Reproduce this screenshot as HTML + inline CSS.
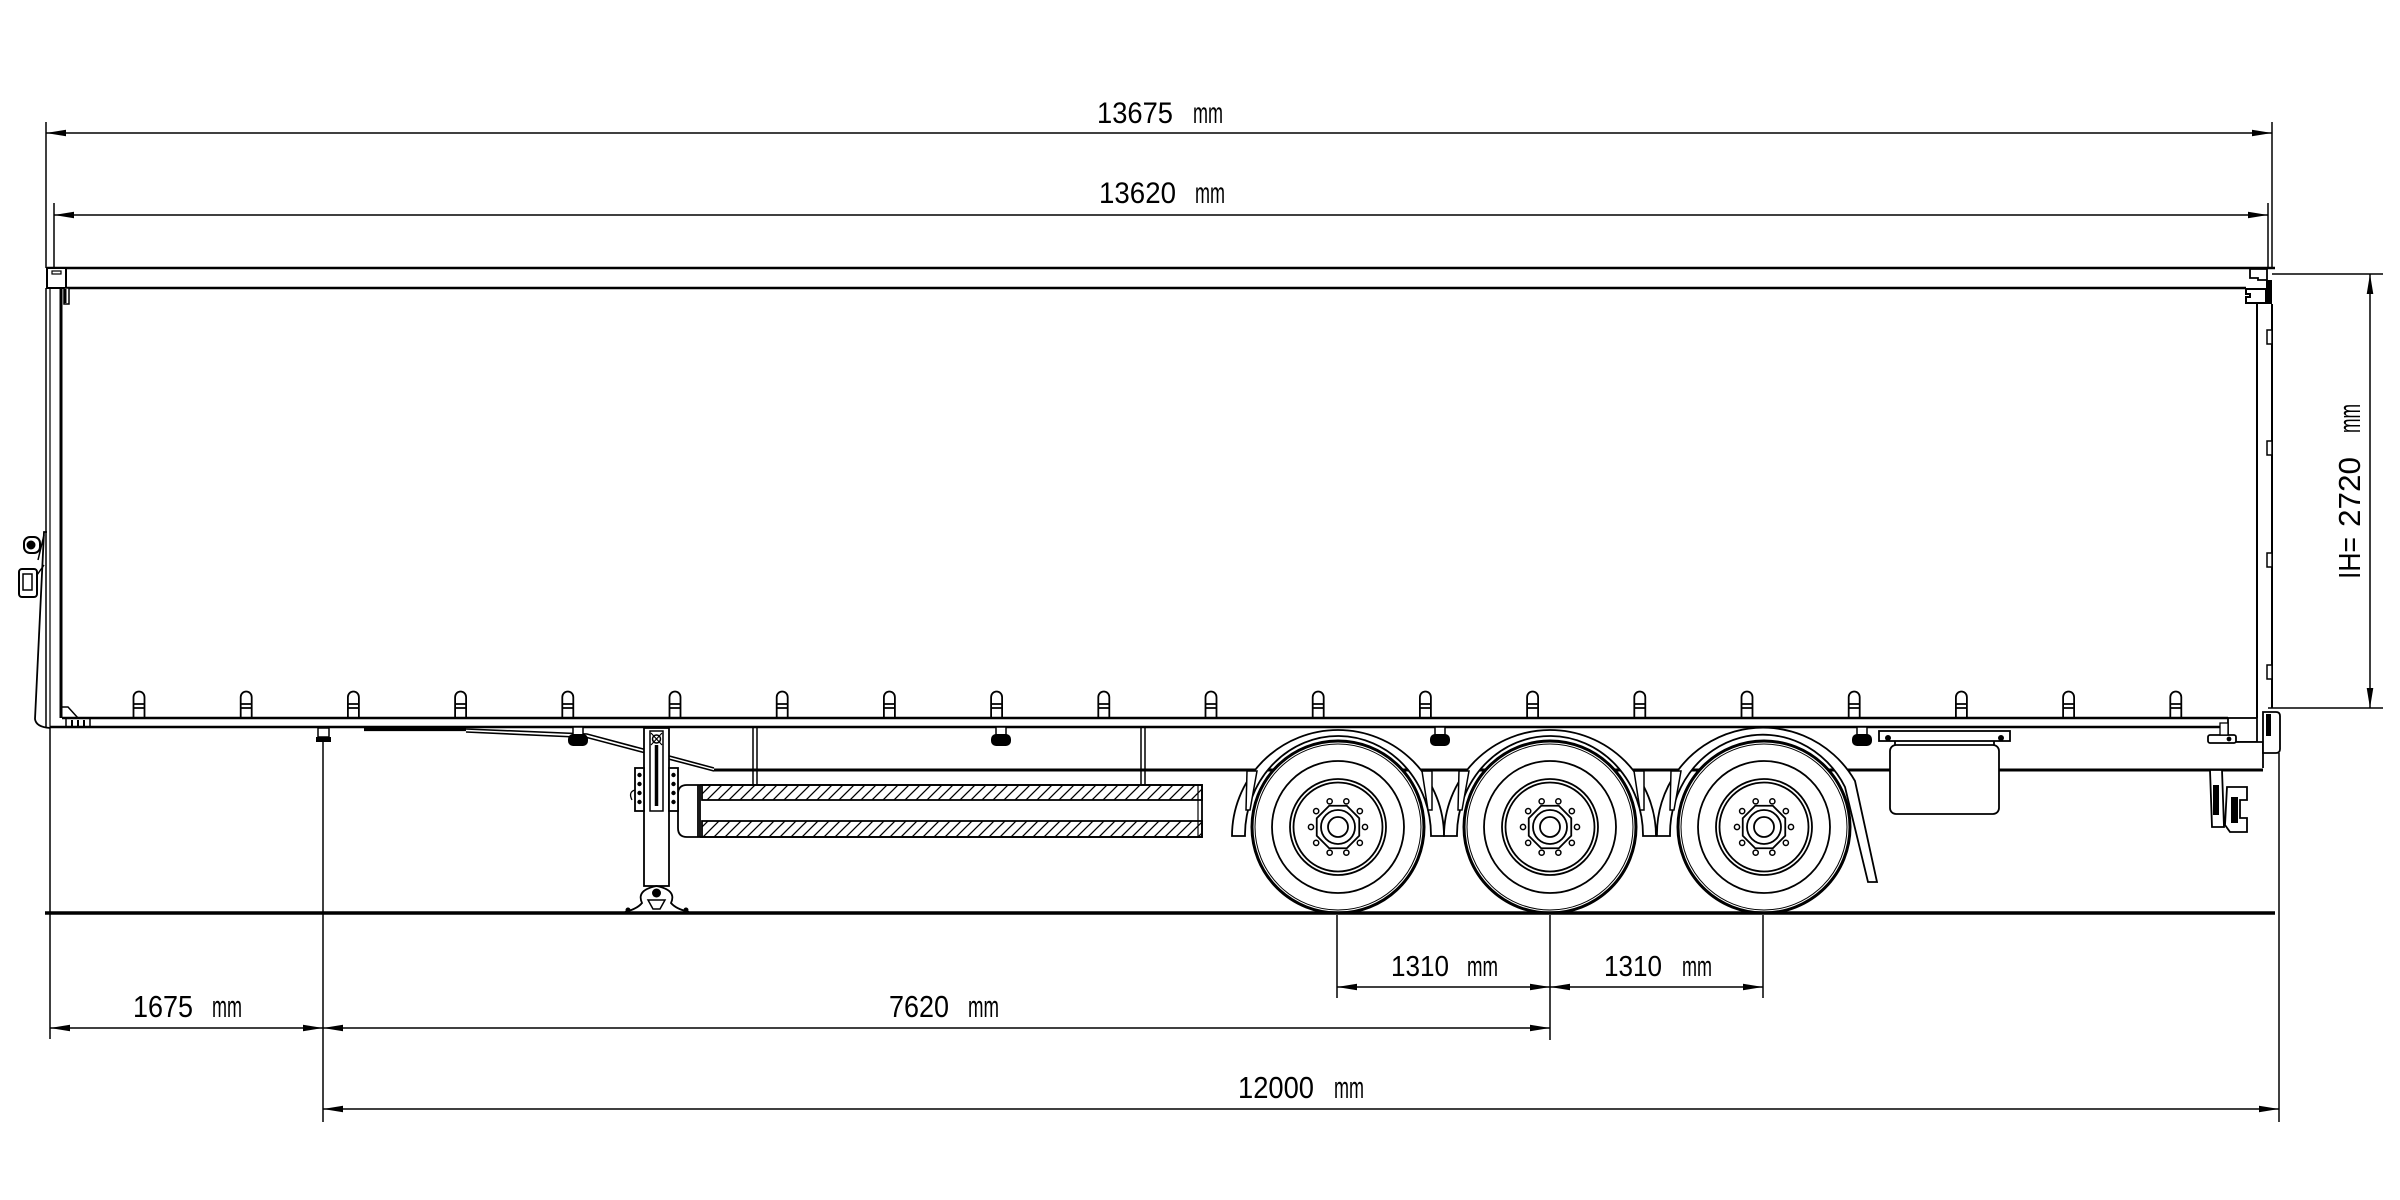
<!DOCTYPE html>
<html>
<head>
<meta charset="utf-8">
<style>
  html, body { margin: 0; padding: 0; background: #fff; }
  svg { display: block; }
  text { font-family: "Liberation Sans", "DejaVu Sans", sans-serif; fill: #000; }
</style>
</head>
<body>
<svg width="2400" height="1200" viewBox="0 0 2400 1200" xmlns="http://www.w3.org/2000/svg" xmlns:xlink="http://www.w3.org/1999/xlink">
  <rect x="0" y="0" width="2400" height="1200" fill="#fff"/>
  <defs>
    <pattern id="h" patternUnits="userSpaceOnUse" width="11" height="11">
      <path d="M-1,12 L12,-1 M-1,1 L1,-1 M10,12 L12,10" stroke="#000" stroke-width="1.3"/>
    </pattern>
    <path id="ar" d="M0,0 L-20,-3.3 L-20,3.3 Z" fill="#000"/>
    <g id="hook" fill="#fff" stroke="#000" stroke-width="1.8">
      <path d="M-5.5,718 V697 A5.5,5.5 0 0 1 5.5,697 V718"/>
      <path d="M-5.5,704 H5.5 M-5.5,708 H5.5" fill="none"/>
    </g>
    <g id="wheel" stroke="#000" fill="none">
      <circle r="86" stroke-width="3" fill="#fff"/>
      <circle r="83" stroke-width="1"/>
      <circle r="66" stroke-width="1.8"/>
      <circle r="48" stroke-width="1.8"/>
      <circle r="44.5" stroke-width="1.8"/>
      <polygon points="21.25,8.8 8.8,21.25 -8.8,21.25 -21.25,8.8 -21.25,-8.8 -8.8,-21.25 8.8,-21.25 21.25,-8.8" stroke-width="1.8"/>
      <circle r="17" stroke-width="1.8"/>
      <circle r="10" stroke-width="1.8"/>
      <g stroke-width="1.5">
        <circle cx="27" cy="0" r="2.6"/>
        <circle cx="21.84" cy="15.87" r="2.6"/>
        <circle cx="8.34" cy="25.68" r="2.6"/>
        <circle cx="-8.34" cy="25.68" r="2.6"/>
        <circle cx="-21.84" cy="15.87" r="2.6"/>
        <circle cx="-27" cy="0" r="2.6"/>
        <circle cx="-21.84" cy="-15.87" r="2.6"/>
        <circle cx="-8.34" cy="-25.68" r="2.6"/>
        <circle cx="8.34" cy="-25.68" r="2.6"/>
        <circle cx="21.84" cy="-15.87" r="2.6"/>
      </g>
    </g>
    <g id="lamp">
      <rect x="-5" y="727" width="10" height="8" fill="#fff" stroke="#000" stroke-width="1.5"/>
      <rect x="-10" y="734" width="20" height="12" rx="5" fill="#000"/>
    </g>
  </defs>

  <!-- ============ TOP DIMENSIONS ============ -->
  <g stroke="#000" stroke-width="1.5" fill="none">
    <path d="M46,133 H2272"/>
    <path d="M46,122 V268"/>
    <path d="M2272,122 V268"/>
    <path d="M54,215 H2268"/>
    <path d="M54,203 V268"/>
    <path d="M2268,203 V268"/>
  </g>
  <use xlink:href="#ar" href="#ar" transform="translate(46,133) rotate(180)"/>
  <use xlink:href="#ar" href="#ar" transform="translate(2272,133)"/>
  <use xlink:href="#ar" href="#ar" transform="translate(54,215) rotate(180)"/>
  <use xlink:href="#ar" href="#ar" transform="translate(2268,215)"/>
  <text x="1097" y="123" font-size="30" textLength="76" lengthAdjust="spacingAndGlyphs">13675</text>
  <text x="1193" y="123" font-size="30" textLength="30" lengthAdjust="spacingAndGlyphs">mm</text>
  <text x="1099" y="203" font-size="30" textLength="77" lengthAdjust="spacingAndGlyphs">13620</text>
  <text x="1195" y="203" font-size="30" textLength="30" lengthAdjust="spacingAndGlyphs">mm</text>

  <!-- ============ IH DIMENSION ============ -->
  <g stroke="#000" stroke-width="1.5" fill="none">
    <path d="M2272,274 H2383"/>
    <path d="M2268,708 H2383"/>
    <path d="M2370,274 V708"/>
  </g>
  <use xlink:href="#ar" href="#ar" transform="translate(2370,274) rotate(-90)"/>
  <use xlink:href="#ar" href="#ar" transform="translate(2370,708) rotate(90)"/>
  <g transform="translate(2360,0) rotate(-90)">
    <text x="-579" y="0" font-size="31" textLength="42" lengthAdjust="spacingAndGlyphs">IH=</text>
    <text x="-527" y="0" font-size="31" textLength="70" lengthAdjust="spacingAndGlyphs">2720</text>
    <text x="-433" y="0" font-size="31" textLength="29" lengthAdjust="spacingAndGlyphs">mm</text>
  </g>

  <!-- ============ TRAILER BODY ============ -->
  <g stroke="#000" fill="none">
    <path d="M47,268 H2275" stroke-width="2.6"/>
    <path d="M66,288 H2246" stroke-width="2.6"/>
    <rect x="47" y="268" width="19" height="20" stroke-width="2" fill="#fff"/>
    <rect x="52" y="271" width="9" height="3" stroke-width="1.2"/>
    <rect x="64" y="288" width="5" height="16" stroke-width="1.5" fill="#fff"/>
    <path d="M65.5,289 V303" stroke-width="2"/>
    <!-- rear top blocks -->
    <path d="M2250,269 H2267 V280 H2258 V278 H2250 Z" stroke-width="1.8" fill="#fff"/>
    <path d="M2246,289 H2266 V303 H2246 V297 H2250 V294 H2246 Z" stroke-width="2" fill="#fff"/>
    <rect x="2266" y="280" width="6" height="24" fill="#000" stroke="none"/>
  </g>

  <!-- front wall -->
  <g stroke="#000" fill="none">
    <path d="M46,288 V727" stroke-width="1.5"/>
    <path d="M50,288 V727" stroke-width="1.2"/>
    <path d="M61,288 V718" stroke-width="3"/>
    <path d="M47,532 L44,532 L35,719 Q36,727 50,728" stroke-width="1.8"/>
    <path d="M44,535 L38,560" stroke-width="1.5"/>
    <rect x="24" y="537" width="16" height="16" rx="6" stroke-width="2"/>
    <circle cx="31" cy="545" r="4" fill="#000"/>
    <rect x="19" y="569" width="18" height="28" rx="3" stroke-width="2"/>
    <rect x="23" y="574" width="9" height="16" stroke-width="1.5"/>
    <path d="M37,575 L44,565" stroke-width="1.5"/>
    <path d="M62,707 L68,707 L78,718" stroke-width="1.5"/>
    <rect x="66" y="718" width="24" height="9" stroke-width="1.5" fill="#fff"/>
    <path d="M72,720 V726 M78,720 V726 M84,720 V726" stroke-width="2"/>
  </g>

  <!-- rear wall -->
  <g stroke="#000" fill="none">
    <path d="M2257,303 V718" stroke-width="2"/>
    <path d="M2272,304 V708" stroke-width="2"/>
    <rect x="2267" y="330" width="5" height="14" stroke-width="1.5" fill="#fff"/>
    <rect x="2267" y="441" width="5" height="14" stroke-width="1.5" fill="#fff"/>
    <rect x="2267" y="553" width="5" height="14" stroke-width="1.5" fill="#fff"/>
    <rect x="2267" y="665" width="5" height="14" stroke-width="1.5" fill="#fff"/>
  </g>

  <!-- tie-down hooks -->
  <use xlink:href="#hook" href="#hook" x="139"/>
  <use xlink:href="#hook" href="#hook" x="246.2"/>
  <use xlink:href="#hook" href="#hook" x="353.4"/>
  <use xlink:href="#hook" href="#hook" x="460.6"/>
  <use xlink:href="#hook" href="#hook" x="567.8"/>
  <use xlink:href="#hook" href="#hook" x="675"/>
  <use xlink:href="#hook" href="#hook" x="782.2"/>
  <use xlink:href="#hook" href="#hook" x="889.4"/>
  <use xlink:href="#hook" href="#hook" x="996.6"/>
  <use xlink:href="#hook" href="#hook" x="1103.8"/>
  <use xlink:href="#hook" href="#hook" x="1211"/>
  <use xlink:href="#hook" href="#hook" x="1318.2"/>
  <use xlink:href="#hook" href="#hook" x="1425.4"/>
  <use xlink:href="#hook" href="#hook" x="1532.6"/>
  <use xlink:href="#hook" href="#hook" x="1639.8"/>
  <use xlink:href="#hook" href="#hook" x="1747"/>
  <use xlink:href="#hook" href="#hook" x="1854.2"/>
  <use xlink:href="#hook" href="#hook" x="1961.4"/>
  <use xlink:href="#hook" href="#hook" x="2068.6"/>
  <use xlink:href="#hook" href="#hook" x="2175.8"/>

  <!-- bottom rail -->
  <g stroke="#000" fill="none">
    <path d="M62,718 H2228" stroke-width="2.4"/>
    <path d="M50,727 H2228" stroke-width="2.4"/>
  </g>

  <!-- ============ CHASSIS ============ -->
  <g stroke="#000" fill="none">
    <path d="M364,729.5 H466" stroke-width="3.2"/>
    <path d="M466,729 L587,734 L714,768" stroke-width="1.6"/>
    <path d="M466,732 L587,737.5 L714,771" stroke-width="1.6"/>
    <path d="M714,770 H2263" stroke-width="3"/>
    <path d="M753,728 V785 M757,728 V785" stroke-width="1.5"/>
    <path d="M1141,728 V785 M1145,728 V785" stroke-width="1.5"/>
  </g>

  <rect x="318" y="728" width="11" height="9" fill="#fff" stroke="#000" stroke-width="1.5"/>
  <rect x="316" y="737" width="15" height="5" fill="#000"/>

  <use xlink:href="#lamp" href="#lamp" x="578"/>
  <use xlink:href="#lamp" href="#lamp" x="1001"/>
  <use xlink:href="#lamp" href="#lamp" x="1440"/>
  <use xlink:href="#lamp" href="#lamp" x="1862"/>

  <!-- tank -->
  <g stroke="#000" stroke-width="1.8">
    <rect x="702" y="785" width="500" height="15" fill="url(#h)"/>
    <rect x="702" y="821" width="500" height="16" fill="url(#h)"/>
    <path d="M700,785 H1202 V837 H700" fill="none"/>
    <path d="M700,785 H687 Q678,785 678,794 V828 Q678,837 687,837 H700 Z" fill="#fff"/>
    <path d="M698,785 V837" fill="none"/>
    <path d="M1198,785 V837" fill="none" stroke-width="1.2"/>
  </g>

  <!-- landing gear -->
  <g stroke="#000" stroke-width="1.8">
    <rect x="644" y="728" width="25" height="158" fill="#fff"/>
    <rect x="650" y="731" width="13" height="80" fill="#fff" stroke-width="1.5"/>
    <path d="M656.5,745 V806" stroke-width="3.5"/>
    <circle cx="656.5" cy="739" r="4" fill="#fff" stroke-width="1.5"/>
    <path d="M651,733 L662,745 M662,733 L651,745" stroke-width="1.2"/>
    <rect x="635" y="768" width="9" height="43" fill="#fff"/>
    <rect x="669" y="768" width="9" height="43" fill="#fff"/>
    <g fill="#000" stroke="none">
      <circle cx="639.5" cy="775" r="2.2"/><circle cx="639.5" cy="784" r="2.2"/><circle cx="639.5" cy="793" r="2.2"/><circle cx="639.5" cy="802" r="2.2"/>
      <circle cx="673.5" cy="775" r="2.2"/><circle cx="673.5" cy="784" r="2.2"/><circle cx="673.5" cy="793" r="2.2"/><circle cx="673.5" cy="802" r="2.2"/>
    </g>
    <path d="M635,790 Q628,792 632,800" fill="none" stroke-width="1.3"/>
    <path d="M625,912 Q637,909 642,903 Q636,890 656.5,886 Q677,890 671,903 Q676,909 689,912" fill="#fff"/>
    <path d="M648,900 H665 L660,909 H653 Z" fill="#fff" stroke-width="1.5"/>
    <circle cx="656.5" cy="893" r="4.5" fill="#000" stroke="none"/>
    <circle cx="628" cy="910" r="2.5" fill="#000" stroke="none"/>
    <circle cx="686" cy="910" r="2.5" fill="#000" stroke="none"/>
  </g>

  <!-- fenders -->
  <g stroke="#000" stroke-width="1.8" fill="#fff">
    <path d="M1232,836 A106,106 0 0 1 1444,836 H1431 A93,99 0 0 0 1245,834 L1245,836 Z"/>
    <path d="M1444,836 A106,106 0 0 1 1656,836 H1643 A93,99 0 0 0 1457,834 L1457,836 Z"/>
    <path d="M1657,836 A106,106 0 0 1 1855,781 L1877,882 L1868,882 L1845,787 A93,99 0 0 0 1670,834 L1670,836 Z"/>
  </g>
  <g stroke="#000" stroke-width="1.5" fill="#fff">
    <path d="M1247,771 L1257,771 L1250,810 L1246,810 Z"/>
    <path d="M1422,771 L1432,771 L1432,810 L1428,810 Z"/>
    <path d="M1459,771 L1469,771 L1462,810 L1458,810 Z"/>
    <path d="M1634,771 L1644,771 L1644,810 L1640,810 Z"/>
    <path d="M1671,771 L1681,771 L1674,810 L1670,810 Z"/>
  </g>

  <!-- wheels -->
  <use xlink:href="#wheel" href="#wheel" transform="translate(1338,827)"/>
  <use xlink:href="#wheel" href="#wheel" transform="translate(1550,827)"/>
  <use xlink:href="#wheel" href="#wheel" transform="translate(1764,827)"/>

  <!-- number plate -->
  <g stroke="#000" stroke-width="1.8" fill="#fff">
    <rect x="1879" y="731" width="131" height="10"/>
    <rect x="1890" y="745" width="109" height="69" rx="6"/>
    <path d="M1895,741 V745 M1994,741 V745"/>
  </g>
  <circle cx="1888" cy="738" r="3" fill="#000"/>
  <circle cx="2001" cy="738" r="3" fill="#000"/>

  <!-- rear end details -->
  <g stroke="#000" stroke-width="1.8" fill="#fff">
    <rect x="2228" y="718" width="29" height="24"/>
    <path d="M2228,742 H2263 V768"/>
    <path d="M2263,712 H2276 Q2280,712 2280,716 V749 Q2280,753 2276,753 H2263 Z"/>
    <rect x="2266" y="714" width="5" height="22" fill="#000" stroke="none"/>
    <rect x="2208" y="735" width="28" height="8" rx="2"/>
    <rect x="2220" y="723" width="8" height="12" fill="#fff" stroke-width="1.3"/>
    <circle cx="2229" cy="739" r="1.5" fill="#000"/>
    <path d="M2210,770 H2222 L2224,827 H2212 Z"/>
    <rect x="2213" y="785" width="6" height="30" fill="#000" stroke="none"/>
    <path d="M2227,787 H2247 V800 H2240 V818 H2247 V832 H2230 L2225,825 Z" fill="#fff"/>
    <rect x="2231" y="797" width="7" height="26" fill="#000" stroke="none"/>
  </g>

  <!-- ground -->
  <path d="M45,913 H2275" stroke="#000" stroke-width="3.5"/>

  <!-- ============ BOTTOM DIMENSIONS ============ -->
  <g stroke="#000" stroke-width="1.5" fill="none">
    <path d="M50,727 V1039"/>
    <path d="M323,742 V1122"/>
    <path d="M2279,753 V1122"/>
    <path d="M1337,915 V998"/>
    <path d="M1550,915 V1040"/>
    <path d="M1763,915 V998"/>
    <path d="M1337,987 H1763"/>
    <path d="M50,1028 H1550"/>
    <path d="M323,1109 H2279"/>
  </g>
  <use xlink:href="#ar" href="#ar" transform="translate(1337,987) rotate(180)"/>
  <use xlink:href="#ar" href="#ar" transform="translate(1550,987)"/>
  <use xlink:href="#ar" href="#ar" transform="translate(1550,987) rotate(180)"/>
  <use xlink:href="#ar" href="#ar" transform="translate(1763,987)"/>
  <use xlink:href="#ar" href="#ar" transform="translate(50,1028) rotate(180)"/>
  <use xlink:href="#ar" href="#ar" transform="translate(323,1028)"/>
  <use xlink:href="#ar" href="#ar" transform="translate(323,1028) rotate(180)"/>
  <use xlink:href="#ar" href="#ar" transform="translate(1550,1028)"/>
  <use xlink:href="#ar" href="#ar" transform="translate(323,1109) rotate(180)"/>
  <use xlink:href="#ar" href="#ar" transform="translate(2279,1109)"/>

  <text x="1391" y="976" font-size="29" textLength="58" lengthAdjust="spacingAndGlyphs">1310</text>
  <text x="1467" y="976" font-size="29" textLength="31" lengthAdjust="spacingAndGlyphs">mm</text>
  <text x="1604" y="976" font-size="29" textLength="58" lengthAdjust="spacingAndGlyphs">1310</text>
  <text x="1682" y="976" font-size="29" textLength="30" lengthAdjust="spacingAndGlyphs">mm</text>
  <text x="133" y="1017" font-size="31" textLength="60" lengthAdjust="spacingAndGlyphs">1675</text>
  <text x="212" y="1017" font-size="31" textLength="30" lengthAdjust="spacingAndGlyphs">mm</text>
  <text x="889" y="1017" font-size="31" textLength="60" lengthAdjust="spacingAndGlyphs">7620</text>
  <text x="968" y="1017" font-size="31" textLength="31" lengthAdjust="spacingAndGlyphs">mm</text>
  <text x="1238" y="1098" font-size="31" textLength="76" lengthAdjust="spacingAndGlyphs">12000</text>
  <text x="1334" y="1098" font-size="31" textLength="30" lengthAdjust="spacingAndGlyphs">mm</text>
</svg>
</body>
</html>
